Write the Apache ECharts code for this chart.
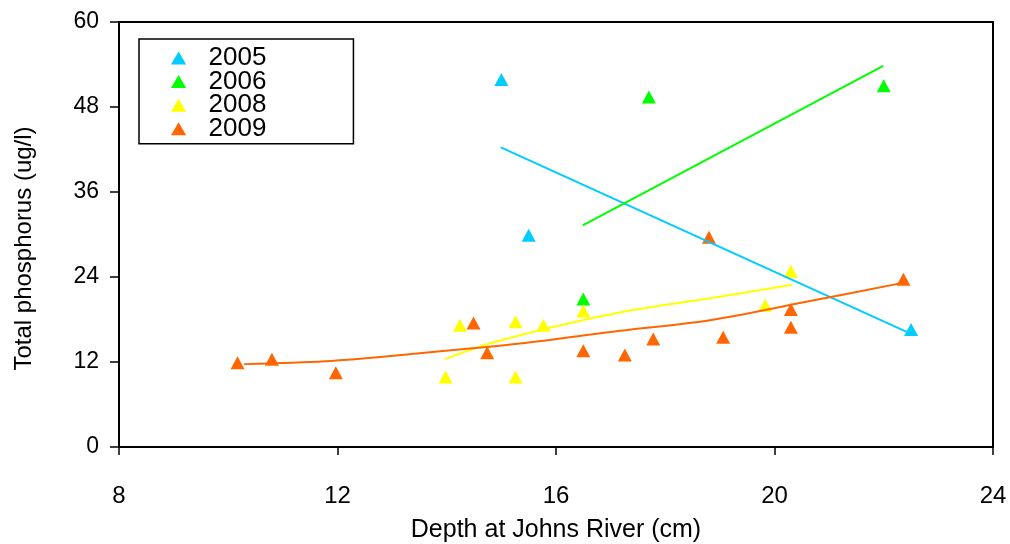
<!DOCTYPE html>
<html>
<head>
<meta charset="utf-8">
<script src="https://cdn.jsdelivr.net/npm/echarts@6/dist/echarts.min.js"></script>
<style>
  html, body { margin: 0; padding: 0; background: #fff; }
  #chart { width: 1010px; height: 544px; }
</style>
</head>
<body>
<div id="chart"></div>
<script>
// Sampling years
const years = ['2005', '2006', '2008', '2009'];

// Depth at Johns River (cm) and total phosphorus (ug/l) per year
const depth2005 = [15.0, 15.5, 22.5];
const tp2005    = [51.9, 29.9, 16.6];

const depth2006 = [16.5, 17.7, 22.0];
const tp2006    = [20.9, 49.4, 51.0];

const depth2008 = [13.98, 14.24, 15.26, 15.26, 15.77, 16.5, 19.83, 20.3];
const tp2008    = [9.9, 17.2, 17.7, 9.9, 17.2, 19.2, 20.0, 24.8];

const depth2009 = [10.17, 10.8, 11.97, 14.49, 14.74, 16.5, 17.26, 17.78, 18.8, 19.06, 20.3, 20.3, 22.36];
const tp2009    = [11.9, 12.4, 10.5, 17.5, 13.3, 13.6, 13.0, 15.25, 29.6, 15.5, 19.4, 16.9, 23.7];

// Trend curves, as depth / phosphorus pairs
const fitDepth2005 = [14.99, 22.48];
const fitTp2005    = [42.3, 16.05];
const fitDepth2006 = [16.49, 21.99];
const fitTp2006    = [31.3, 53.8];
const fitDepth2008 = [13.97, 14.74, 15.76, 17.17, 18.82, 20.32];
const fitTp2008    = [12.4, 14.5, 16.6, 19.0, 21.0, 22.9];
const fitDepth2009 = [10.29, 11.77, 13.6, 15.34, 17.17, 18.82, 20.65, 22.3];
const fitTp2009    = [11.7, 12.1, 13.3, 14.6, 16.4, 17.9, 20.6, 23.1];

// Axis ticks
const xTickValues = [8, 12, 16, 20, 24];
const yTickValues = [0, 12, 24, 36, 48, 60];

// Series colours
const palette = ['#00CCFF', '#00FF00', '#FFFF00', '#FF6600'];
const FONT = '"Liberation Sans", Arial, Helvetica, sans-serif';

const zip = (xs, ys) => xs.map((x, i) => [x, ys[i]]);
const pointSets = [zip(depth2005, tp2005), zip(depth2006, tp2006), zip(depth2008, tp2008), zip(depth2009, tp2009)];
const fitSets = [zip(fitDepth2005, fitTp2005), zip(fitDepth2006, fitTp2006), zip(fitDepth2008, fitTp2008), zip(fitDepth2009, fitTp2009)];

const step = a => a[1] - a[0];

const scatterSeries = years.map((y, i) => ({
  name: y,
  type: 'scatter',
  data: pointSets[i],
  symbol: 'triangle',
  symbolSize: [14, 13],
  itemStyle: { color: palette[i], opacity: 1 },
  z: 2,
  silent: true
}));

const fitSeries = years.map((y, i) => ({
  name: y + ' trend',
  type: 'line',
  data: fitSets[i],
  smooth: fitSets[i].length > 2 ? 0.3 : false,
  showSymbol: false,
  symbol: 'none',
  lineStyle: { color: palette[i], width: 2 },
  z: 3,
  silent: true
}));

const chart = echarts.init(document.getElementById('chart'), null, { renderer: 'canvas' });

chart.setOption({
  animation: false,
  backgroundColor: '#fff',
  grid: {
    left: 119, right: 17, top: 22, bottom: 97,
    outerBoundsMode: 'none',
    containLabel: false,
    show: true, borderColor: '#000', borderWidth: 2, backgroundColor: 'transparent'
  },
  legend: {
    data: years,
    orient: 'vertical',
    left: 139,
    top: 39,
    padding: [6, 87, 2, 32],
    itemGap: -2.4,
    itemWidth: 50,
    itemHeight: 13,
    icon: 'path://M7,0L14,12L0,12Z',
    symbolKeepAspect: true,
    borderColor: '#000',
    borderWidth: 1.5,
    selectedMode: false,
    textStyle: { fontSize: 26, color: '#000', fontFamily: FONT }
  },
  xAxis: {
    type: 'value',
    min: xTickValues[0],
    max: xTickValues[xTickValues.length - 1],
    interval: step(xTickValues),
    name: 'Depth at Johns River (cm)',
    nameLocation: 'middle',
    nameGap: 71,
    nameMoveOverlap: false,
    nameTextStyle: { fontSize: 25, color: '#000', fontFamily: FONT },
    axisLine: { show: true, onZero: false, lineStyle: { color: '#000', width: 2 } },
    axisTick: { show: true, inside: false, length: 8, lineStyle: { color: '#000', width: 1.5 } },
    splitLine: { show: false },
    axisLabel: { fontSize: 24, color: '#000', margin: 37, fontFamily: FONT }
  },
  yAxis: {
    type: 'value',
    min: yTickValues[0],
    max: yTickValues[yTickValues.length - 1],
    interval: step(yTickValues),
    name: 'Total phosphorus (ug/l)',
    nameLocation: 'middle',
    nameGap: 83,
    nameMoveOverlap: false,
    nameTextStyle: { fontSize: 24, color: '#000', fontFamily: FONT, padding: [0, 28, 0, 0] },
    axisLine: { show: true, onZero: false, lineStyle: { color: '#000', width: 2 } },
    axisTick: { show: true, inside: false, length: 9, lineStyle: { color: '#000', width: 1.5 } },
    splitLine: { show: false },
    axisLabel: { fontSize: 23, color: '#000', margin: 20, fontFamily: FONT }
  },
  series: [...scatterSeries, ...fitSeries]
});
</script>
</body>
</html>
